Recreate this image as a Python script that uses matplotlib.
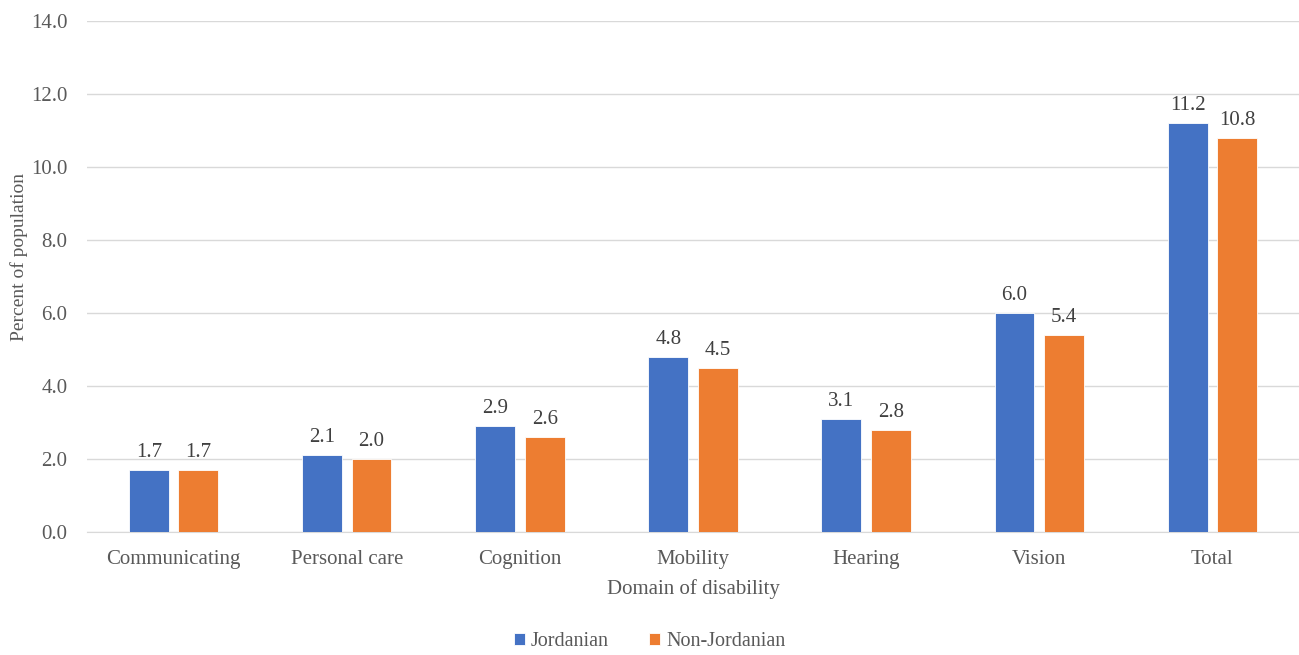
import matplotlib
matplotlib.use("Agg")
import matplotlib.pyplot as plt
import numpy as np

plt.rcParams['font.family'] = ['Liberation Serif', 'DejaVu Serif']

# Disability prevalence by domain and nationality
domains = ['Communicating', 'Personal care', 'Cognition', 'Mobility',
           'Hearing', 'Vision', 'Total']
jordanian = [1.7, 2.1, 2.9, 4.8, 3.1, 6.0, 11.2]
non_jordanian = [1.7, 2.0, 2.6, 4.5, 2.8, 5.4, 10.8]
series_names = ['Jordanian', 'Non-Jordanian']
yticks = [0, 2, 4, 6, 8, 10, 12, 14]

blue = '#4472C4'
orange = '#ED7D31'
txt = '#595959'
grid = '#D9D9D9'

fig = plt.figure(figsize=(12.99, 6.55), dpi=100)
ax = fig.add_axes([0.067, 0.188, 0.933, 0.780])

x = np.arange(len(domains))
w = 0.23
off = 0.143
b1 = ax.bar(x - off, jordanian, w, color=blue, edgecolor='white', linewidth=0.6,
            label=series_names[0], zorder=3)
b2 = ax.bar(x + off, non_jordanian, w, color=orange, edgecolor='white', linewidth=0.6,
            label=series_names[1], zorder=3)

for bars, vals in ((b1, jordanian), (b2, non_jordanian)):
    for b, v in zip(bars, vals):
        ax.text(b.get_x() + b.get_width() / 2, v + 0.22, f'{v:.1f}',
                ha='center', va='bottom', fontsize=15, color='#404040')

ax.set_xlim(-0.5, len(domains) - 0.5)
ax.set_ylim(0, 14)
ax.set_yticks(yticks)
ax.set_yticklabels([f'{t:.1f}' for t in yticks])
ax.set_xticks(x)
ax.set_xticklabels(domains)
ax.tick_params(axis='both', length=0, labelsize=15, colors=txt)
ax.tick_params(axis='y', pad=14)
ax.tick_params(axis='x', pad=13)

ax.yaxis.grid(True, color=grid, linewidth=1, zorder=0)
for s in ('top', 'right', 'left'):
    ax.spines[s].set_visible(False)
ax.spines['bottom'].set_color(grid)

ax.set_xlabel('Domain of disability', fontsize=15, color=txt, labelpad=7)
ax.set_ylabel('Percent of population', fontsize=14, color=txt)
ax.yaxis.set_label_coords(-0.049, 0.538)

fig.legend(handles=[b1, b2], labels=series_names, loc='center',
           bbox_to_anchor=(0.5, 0.02), ncol=2, frameon=False, fontsize=14.5,
           handlelength=0.55, handleheight=0.55, handletextpad=0.3,
           columnspacing=2.0, labelcolor=txt)

fig.savefig('out.png', dpi=100)
